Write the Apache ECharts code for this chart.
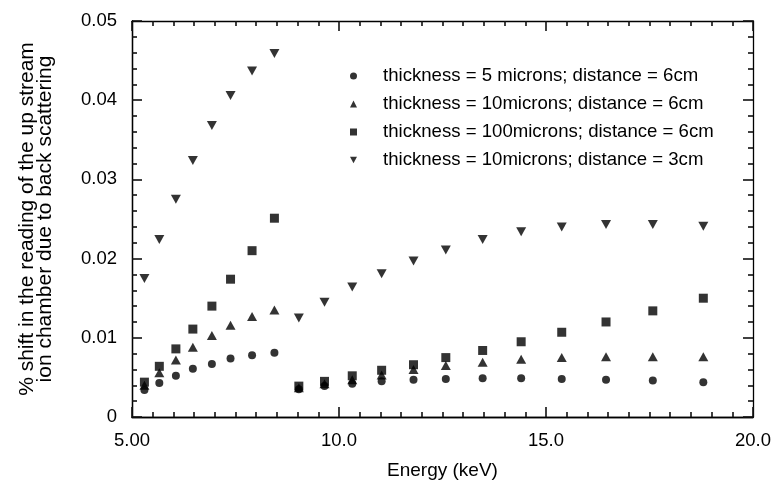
<!DOCTYPE html>
<html>
<head>
<meta charset="utf-8">
<script src="https://cdn.jsdelivr.net/npm/echarts@6/dist/echarts.min.js"></script>
<style>
  html, body { margin: 0; padding: 0; background: #fff; }
  #chart { width: 774px; height: 487px; }
</style>
</head>
<body>
<div id="chart"></div>
<script>
  // energies (keV)
  const energy = [5.30, 5.66, 6.06, 6.47, 6.93, 7.38, 7.90, 8.44, 9.03, 9.65,
    10.32, 11.03, 11.80, 12.58, 13.47, 14.40, 15.38, 16.45, 17.58, 18.80]

  // % shift for each setup
  const t5d6 = [0.0034, 0.0043, 0.0052, 0.0061, 0.0067, 0.0074, 0.0078, 0.0081, 0.0035, 0.0039,
    0.0042, 0.0045, 0.0047, 0.0048, 0.0049, 0.0049, 0.0048, 0.0047, 0.0046, 0.0044]
  const t10d6 = [0.0040, 0.0056, 0.0072, 0.0088, 0.0103, 0.0116, 0.0127, 0.0135, 0.0037, 0.0042,
    0.0047, 0.0053, 0.0060, 0.0065, 0.0069, 0.0073, 0.0075, 0.0076, 0.0076, 0.0076]
  const t100d6 = [0.0044, 0.0064, 0.0086, 0.0111, 0.0140, 0.0174, 0.0210, 0.0251, 0.0039, 0.0045,
    0.0052, 0.0059, 0.0066, 0.0075, 0.0084, 0.0095, 0.0107, 0.0120, 0.0134, 0.0150]
  const t10d3 = [0.0175, 0.0224, 0.0275, 0.0324, 0.0368, 0.0406, 0.0437, 0.0459, 0.0125, 0.0145,
    0.0164, 0.0181, 0.0197, 0.0211, 0.0224, 0.0234, 0.0240, 0.0243, 0.0243, 0.0241]

  const names = [
    'thickness = 5 microns; distance = 6cm',
    'thickness = 10microns; distance = 6cm',
    'thickness = 100microns; distance = 6cm',
    'thickness = 10microns; distance = 3cm',
  ]

  const font = "'Liberation Sans', Arial, sans-serif"
  const downTri = 'path://M0,0L10,0L5,9Z'
  const pairs = ys => energy.map((e, i) => [e, ys[i]])

  // tick-only axis for the frame, ticks pointing inwards
  function tickAxis (pos, min, max, interval, minorSplit) {
    return {
      type: 'value',
      position: pos,
      min: min,
      max: max,
      interval: interval,
      axisLine: { show: true, onZero: false, lineStyle: { color: '#000', width: 1.3 } },
      axisTick: { show: true, inside: true, length: 10, lineStyle: { color: '#111', width: 1.6 } },
      minorTick: { show: true, splitNumber: minorSplit, length: 5, lineStyle: { color: '#111', width: 1.6 } },
      splitLine: { show: false },
      axisLabel: { show: false },
    }
  }

  // labelled axis (labels and name only)
  function labelAxis (pos, min, max, interval, label) {
    return {
      type: 'value',
      position: pos,
      min: min,
      max: max,
      interval: interval,
      axisLine: { show: true, onZero: false, lineStyle: { color: '#000', width: 1.3 } },
      axisTick: { show: false },
      minorTick: { show: false },
      splitLine: { show: false },
      axisLabel: label,
    }
  }

  const chart = echarts.init(document.getElementById('chart'))

  const xMain = labelAxis('bottom', 5, 20, 5, {
    margin: 14,
    fontFamily: font,
    fontSize: 18.5,
    color: '#000',
    formatter: v => (v < 10 ? v.toFixed(2) : v.toFixed(1)),
  })
  xMain.name = 'Energy (keV)'
  xMain.nameLocation = 'middle'
  xMain.nameGap = 44
  xMain.nameTextStyle = { fontFamily: font, fontSize: 19, color: '#000' }

  const yMain = labelAxis('left', 0, 0.05, 0.01, {
    margin: 15,
    fontFamily: font,
    fontSize: 18.5,
    color: '#000',
    formatter: v => (v === 0 ? '0' : v.toFixed(2)),
  })
  yMain.name = '% shift in the reading of the up stream\nion chamber due to back scattering'
  yMain.nameLocation = 'middle'
  yMain.nameRotate = 90
  yMain.nameGap = 78
  yMain.nameTextStyle = { fontFamily: font, fontSize: 21, color: '#000', lineHeight: 18 }

  const option = {
    animation: false,
    textStyle: { fontFamily: font, color: '#000' },
    grid: { left: 132, right: 21, top: 21, bottom: 70 },
    legend: {
      orient: 'vertical',
      left: 345,
      top: 61,
      itemWidth: 7,
      itemHeight: 7,
      itemGap: 8,
      data: names,
      textStyle: { fontFamily: font, fontSize: 18.6, color: '#000', lineHeight: 20, padding: [0, 0, 0, 21] },
    },
    xAxis: [
      xMain,
      tickAxis('bottom', 5, 20, 5, 10),
      tickAxis('top', 5, 20, 5, 10),
    ],
    yAxis: [
      yMain,
      tickAxis('left', 0, 0.05, 0.01, 5),
      tickAxis('right', 0, 0.05, 0.01, 5),
    ],
    series: [
      {
        name: names[0],
        type: 'scatter',
        symbol: 'circle',
        symbolSize: 8,
        itemStyle: { color: '#000' },
        data: pairs(t5d6),
      },
      {
        name: names[1],
        type: 'scatter',
        symbol: 'triangle',
        symbolSize: [10, 9],
        itemStyle: { color: '#000' },
        data: pairs(t10d6),
      },
      {
        name: names[2],
        type: 'scatter',
        symbol: 'rect',
        symbolSize: 9,
        itemStyle: { color: '#000' },
        data: pairs(t100d6),
      },
      {
        name: names[3],
        type: 'scatter',
        symbol: downTri,
        symbolSize: [10, 9],
        itemStyle: { color: '#000' },
        data: pairs(t10d3),
      },
    ],
  }

  chart.setOption(option)
</script>
</body>
</html>
